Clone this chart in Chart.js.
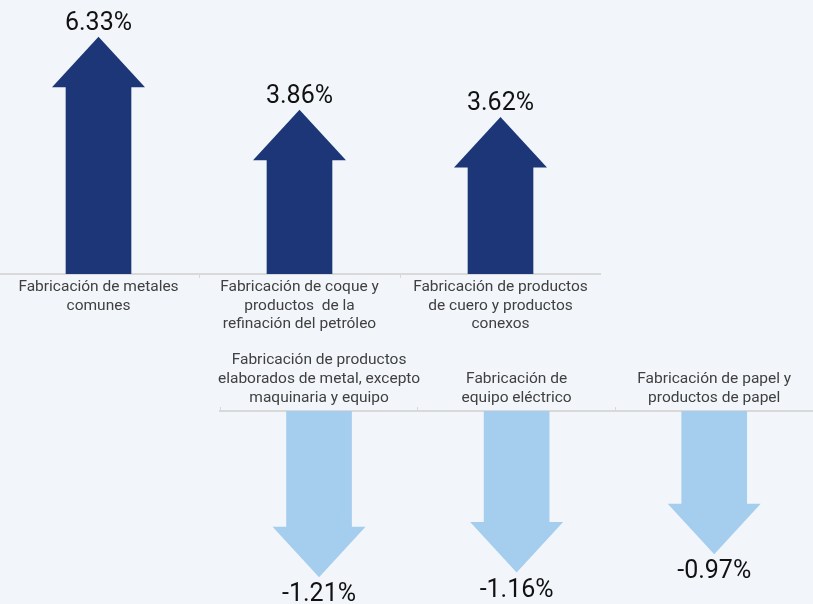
<!DOCTYPE html>
<html lang="es">
<head>
<meta charset="UTF-8">
<title>Variación por actividad</title>
<script src="https://cdn.jsdelivr.net/npm/chart.js"></script>
<style>
  html, body { margin: 0; padding: 0; background: #F2F6FB; }
  #wrap { position: relative; width: 813px; height: 604px; overflow: hidden; background: #F2F6FB; }
  #upBox { position: absolute; left: -2px; top: 0; width: 603px; height: 340px; }
  #downBox { position: absolute; left: 218px; top: 340px; width: 595px; height: 264px; }
</style>
</head>
<body>
<div id="wrap">
  <div id="upBox"><canvas id="upChart"></canvas></div>
  <div id="downBox"><canvas id="downChart"></canvas></div>
</div>

<script>
// ---- data ----
const upCategories = [
  ['Fabricación de metales', 'comunes'],
  ['Fabricación de coque y', 'productos  de la', 'refinación del petróleo'],
  ['Fabricación de productos', 'de cuero y productos', 'conexos']
];
const upValues = [6.33, 3.86, 3.62];

const downCategories = [
  ['Fabricación de productos', 'elaborados de metal, excepto', 'maquinaria y equipo'],
  ['Fabricación de', 'equipo eléctrico'],
  ['Fabricación de papel y', 'productos de papel']
];
const downValues = [-1.21, -1.16, -0.97];

const upMax = 9.26;     // y range of the upper chart
const downMin = -2.01;  // y range of the lower chart

// arrow heads + value labels on top of the bars
const arrowPlugin = {
  id: 'arrows',
  afterDatasetsDraw(chart, args, opts) {
    const ctx = chart.ctx;
    const values = chart.data.datasets[0].data;
    chart.getDatasetMeta(0).data.forEach((bar, i) => {
      const dir = values[i] >= 0 ? -1 : 1;
      const half = bar.width / 2 + opts.overhang;
      const tipY = bar.y + dir * opts.headLength;
      ctx.save();
      ctx.fillStyle = opts.color;
      ctx.beginPath();
      ctx.moveTo(bar.x - half, bar.y - dir * 0.5);
      ctx.lineTo(bar.x + half, bar.y - dir * 0.5);
      ctx.lineTo(bar.x, tipY);
      ctx.closePath();
      ctx.fill();
      ctx.fillStyle = '#111111';
      ctx.font = '25px Roboto';
      ctx.textAlign = 'center';
      ctx.textBaseline = 'middle';
      ctx.fillText(values[i].toFixed(2) + '%', bar.x, tipY + dir * opts.labelGap);
      ctx.restore();
    });
  }
};

function makeChart(id, labels, values, color, axisPos, yMin, yMax, axisHeight, labelGap) {
  return new Chart(document.getElementById(id), {
    type: 'bar',
    data: {
      labels: labels,
      datasets: [{
        data: values,
        backgroundColor: color,
        barThickness: 65,
        borderWidth: 0
      }]
    },
    options: {
      responsive: true,
      maintainAspectRatio: false,
      animation: false,
      devicePixelRatio: 1,
      layout: { padding: 0 },
      plugins: {
        legend: { display: false },
        tooltip: { enabled: false },
        arrows: { color: color, overhang: 14, headLength: 50, labelGap: labelGap }
      },
      scales: {
        x: {
          position: axisPos,
          grid: { drawOnChartArea: false, tickLength: 4, color: '#D9D9D9', lineWidth: 1 },
          border: { color: '#D9D9D9', width: 2 },
          ticks: {
            padding: 0,
            maxRotation: 0,
            autoSkip: false,
            color: '#404040',
            font: { family: 'Roboto', size: 15.5, lineHeight: 1.2 }
          },
          afterFit: s => { s.height = axisHeight; }
        },
        y: { display: false, min: yMin, max: yMax }
      }
    },
    plugins: [arrowPlugin]
  });
}

makeChart('upChart', upCategories, upValues, '#1C3677', 'bottom', 0, upMax, 66, 13);
makeChart('downChart', downCategories, downValues, '#A4CDEE', 'top', downMin, 0, 71, 18);
</script>
</body>
</html>
